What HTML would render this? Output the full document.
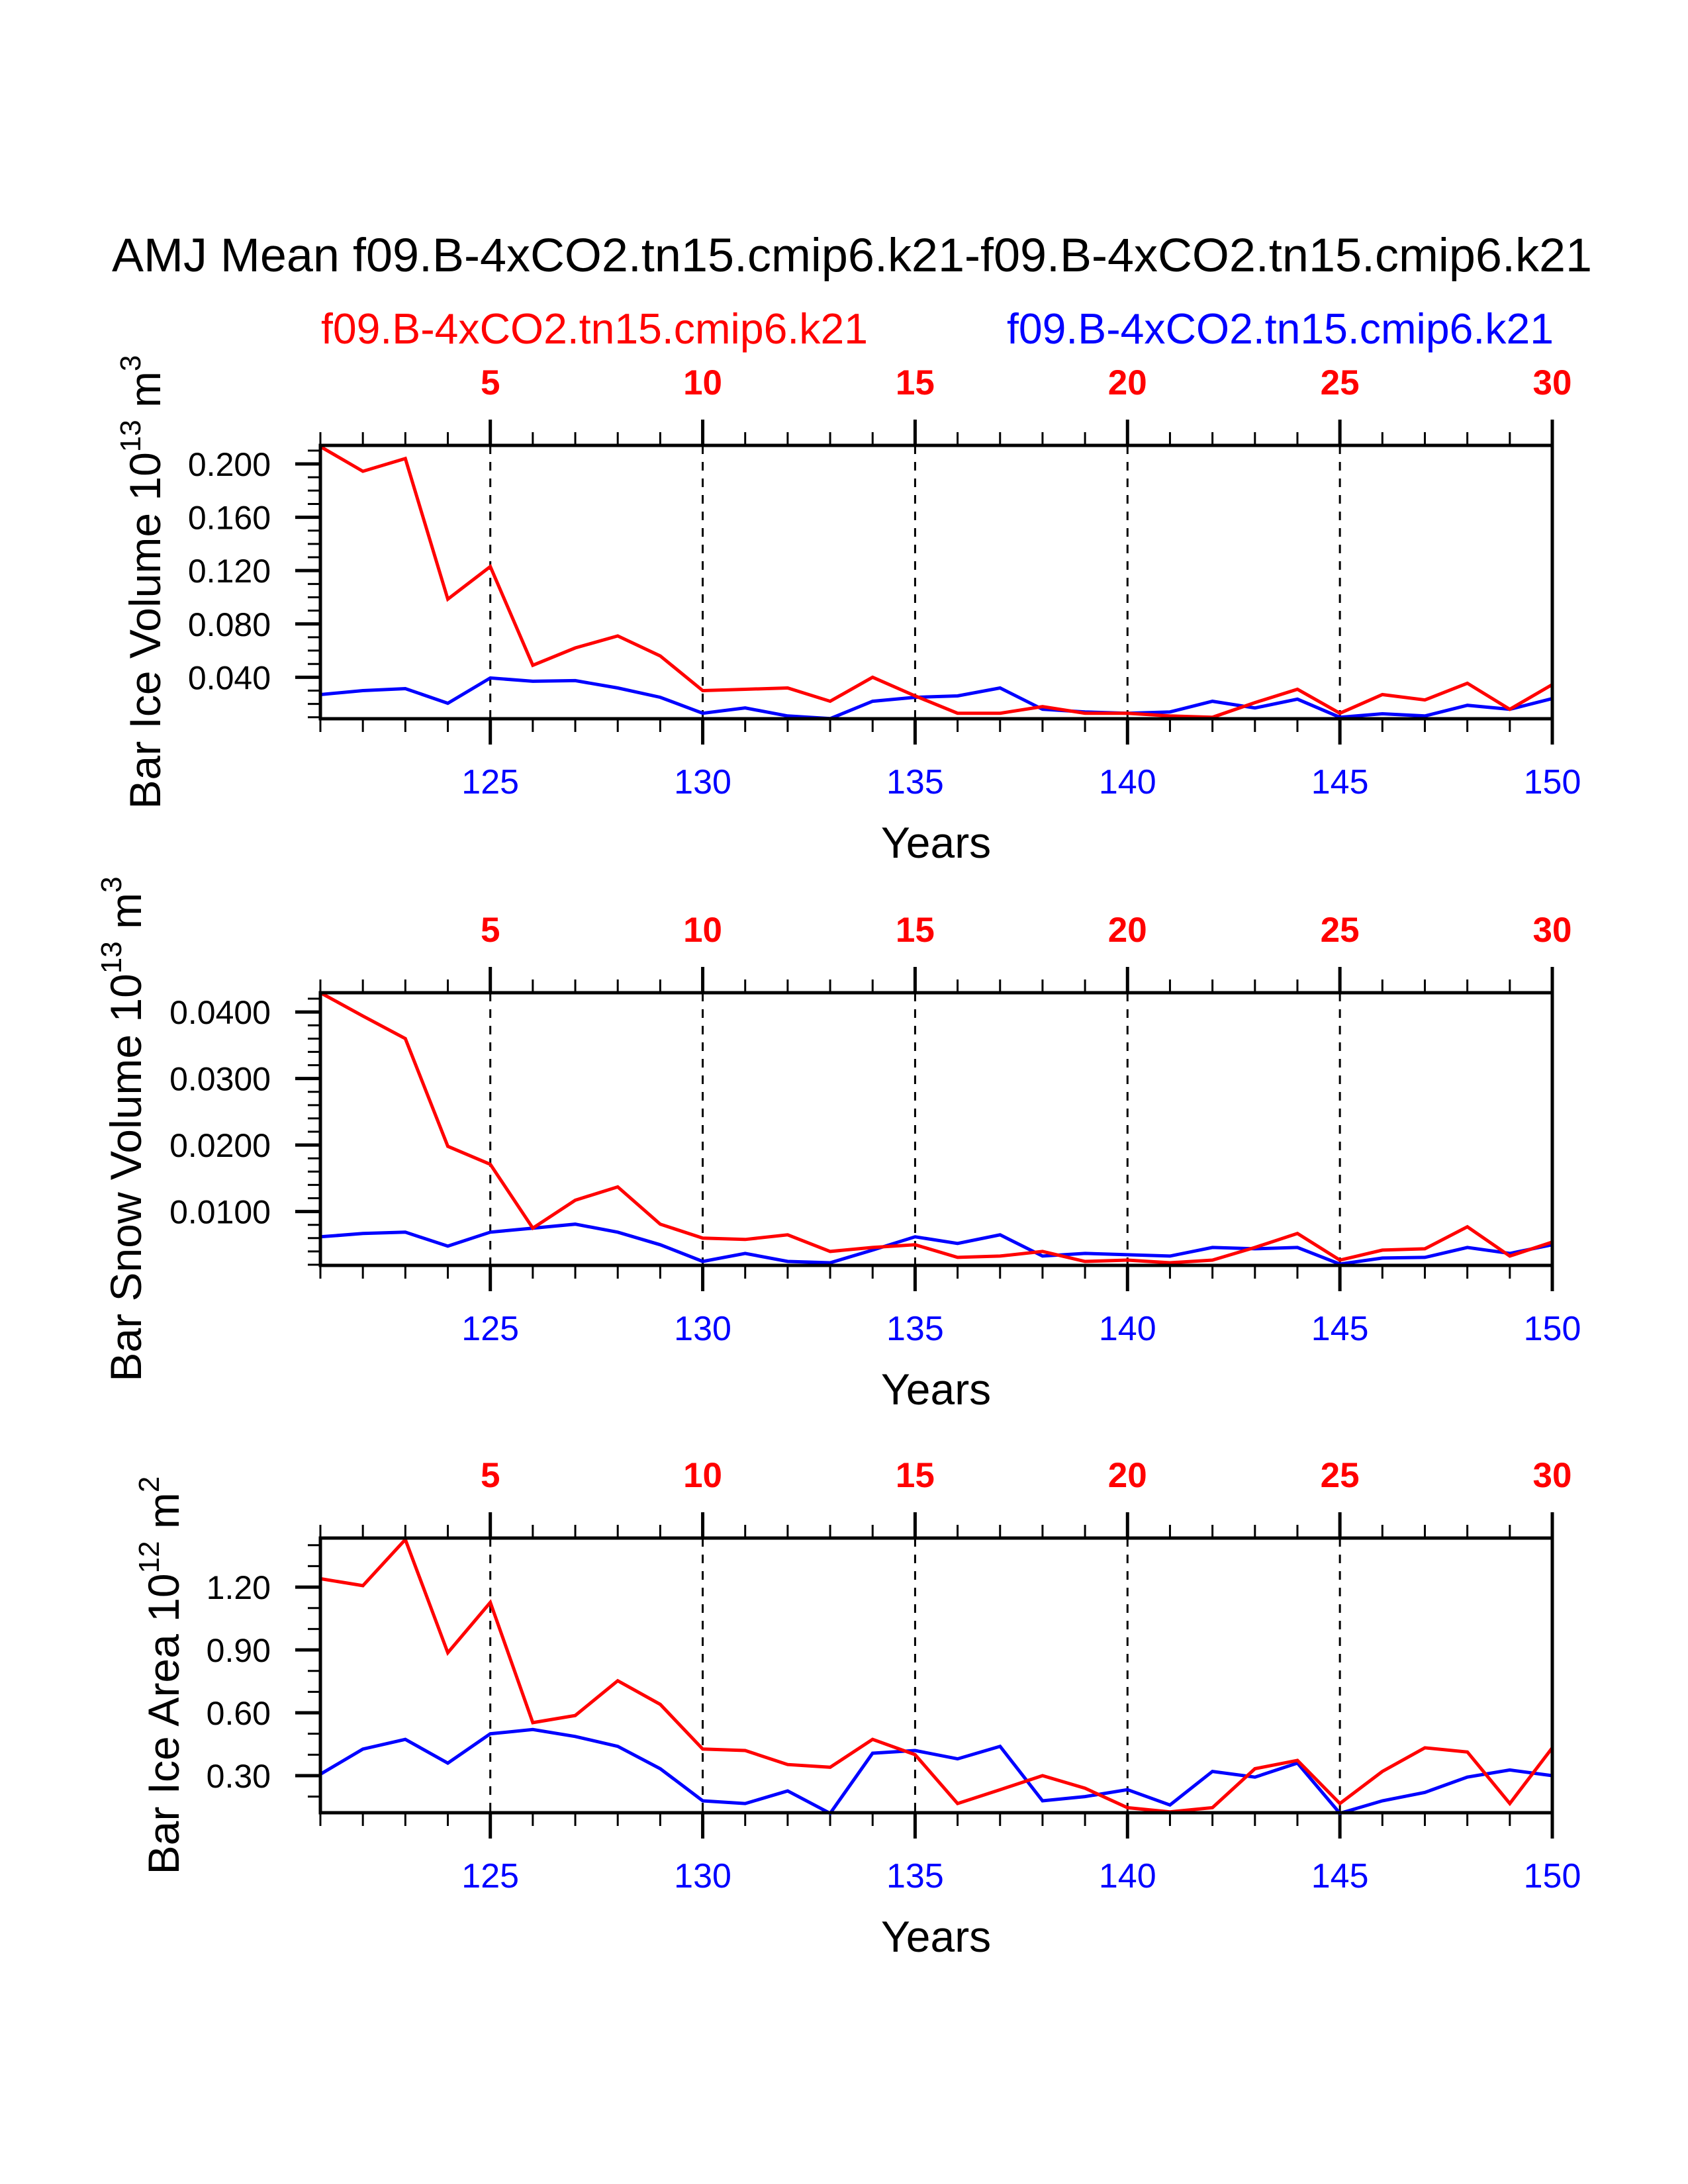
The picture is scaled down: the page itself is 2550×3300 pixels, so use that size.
<!DOCTYPE html>
<html><head><meta charset="utf-8"><style>
html,body{margin:0;padding:0;background:#fff;}
svg{display:block;}
text{font-family:"Liberation Sans",Arial,sans-serif;}
</style></head><body>
<svg id="chart" width="2550" height="3300" viewBox="0 0 2550 3300" xmlns="http://www.w3.org/2000/svg">
<rect x="0" y="0" width="2550" height="3300" fill="#fff"/>
<text x="169" y="410" font-size="71" textLength="2236" lengthAdjust="spacingAndGlyphs">AMJ Mean f09.B-4xCO2.tn15.cmip6.k21-f09.B-4xCO2.tn15.cmip6.k21</text>
<text x="485" y="519" font-size="65" fill="#ff0000" textLength="826" lengthAdjust="spacingAndGlyphs">f09.B-4xCO2.tn15.cmip6.k21</text>
<text x="2347" y="519" font-size="65" fill="#0000ff" text-anchor="end" textLength="826" lengthAdjust="spacingAndGlyphs">f09.B-4xCO2.tn15.cmip6.k21</text>
</svg>
<script>
const years = [121,122,123,124,125,126,127,128,129,130,131,132,133,134,135,136,137,138,139,140,141,142,143,144,145,146,147,148,149,150];
const topTickLabels = ["5","10","15","20","25","30"];
const bottomTickLabels = ["125","130","135","140","145","150"];

const iceVolRed = [0.213,0.1945,0.204,0.0986,0.123,0.049,0.062,0.071,0.056,0.030,0.031,0.032,0.022,0.040,0.026,0.013,0.013,0.018,0.013,0.013,0.011,0.010,0.021,0.031,0.013,0.027,0.023,0.0355,0.016,0.0345];
const iceVolBlue = [0.027,0.030,0.0315,0.0205,0.0395,0.037,0.0375,0.032,0.025,0.013,0.017,0.011,0.009,0.022,0.025,0.026,0.032,0.016,0.014,0.013,0.014,0.022,0.017,0.0236,0.010,0.0126,0.011,0.019,0.016,0.024];
const iceVolTicks = ["0.040","0.080","0.120","0.160","0.200"];

const snowVolRed = [0.0429,0.0394,0.036,0.0198,0.0171,0.0075,0.0117,0.0137,0.0081,0.006,0.0058,0.0065,0.004,0.0046,0.005,0.0031,0.0033,0.004,0.0025,0.0027,0.0023,0.0027,0.0046,0.0067,0.0027,0.0042,0.0044,0.0077,0.0033,0.0054];
const snowVolBlue = [0.0062,0.0067,0.0069,0.0048,0.0069,0.0075,0.0081,0.0069,0.005,0.0025,0.0037,0.0025,0.0023,0.0042,0.0062,0.0052,0.0065,0.0033,0.0037,0.0035,0.0033,0.0046,0.0044,0.0046,0.0021,0.003,0.0031,0.0046,0.0037,0.005];
const snowVolTicks = ["0.0100","0.0200","0.0300","0.0400"];

const iceAreaRed = [1.24,1.207,1.427,0.887,1.127,0.553,0.587,0.753,0.64,0.427,0.42,0.353,0.34,0.473,0.40,0.167,0.233,0.30,0.24,0.147,0.127,0.147,0.333,0.373,0.167,0.32,0.433,0.413,0.167,0.433];
const iceAreaBlue = [0.307,0.427,0.473,0.36,0.5,0.52,0.487,0.44,0.333,0.18,0.167,0.227,0.12,0.407,0.42,0.38,0.44,0.18,0.2,0.233,0.16,0.32,0.293,0.36,0.12,0.18,0.22,0.293,0.327,0.30];
const iceAreaTicks = ["0.30","0.60","0.90","1.20"];

const NS = "http://www.w3.org/2000/svg";
const svg = document.getElementById('chart');
const X0 = 484, X1 = 2345;
function xScale(yr){ return X0 + (yr - 121) * (X1 - X0) / 29; }
function mk(tag, attrs, parent){
  const e = document.createElementNS(NS, tag);
  for (const k in attrs) e.setAttribute(k, attrs[k]);
  (parent || svg).appendChild(e);
  return e;
}

const panels = [
  {top:673,bottom:1086,ymin:0.0089,ymax:0.2139,red:iceVolRed,blue:iceVolBlue,labels:iceVolTicks,minorStep:0.01,minorMin:0.01,minorMax:0.21,titleX:242,title:["Bar Ice Volume 10","13"," m","3"],name:"ice-volume"},
  {top:1500,bottom:1912,ymin:0.0019,ymax:0.0429,red:snowVolRed,blue:snowVolBlue,labels:snowVolTicks,minorStep:0.002,minorMin:0.002,minorMax:0.042,titleX:213,title:["Bar Snow Volume 10","13"," m","3"],name:"snow-volume"},
  {top:2324,bottom:2739,ymin:0.123,ymax:1.434,red:iceAreaRed,blue:iceAreaBlue,labels:iceAreaTicks,minorStep:0.1,minorMin:0.2,minorMax:1.4,titleX:270,title:["Bar Ice Area 10","12"," m","2"],name:"ice-area"}
];

panels.forEach(function(p){
  const g = mk('g', {});
  
  
  function yScale(v){ return p.bottom - (v - p.ymin) / (p.ymax - p.ymin) * (p.bottom - p.top); }

  for (let yr = 125; yr < 150; yr += 5){
    const l = mk('line', {x1:xScale(yr), x2:xScale(yr), y1:p.top, y2:p.bottom, stroke:'#000', 'stroke-width':3, 'stroke-dasharray':'13 12'}, g);
    
    
  }
  for (let yr = 121; yr <= 150; yr++){
    const major = (yr % 5 === 0);
    const len = major ? 39 : 20, w = major ? 5 : 3;
    const tt = mk('line', {x1:xScale(yr), x2:xScale(yr), y1:p.top, y2:p.top - len, stroke:'#000', 'stroke-width':w}, g);
    
    
    const bt = mk('line', {x1:xScale(yr), x2:xScale(yr), y1:p.bottom, y2:p.bottom + len, stroke:'#000', 'stroke-width':w}, g);
    
    
  }
  topTickLabels.forEach(function(lab, i){
    const t = mk('text', {x:xScale(125 + i*5), y:p.top - 77, 'font-size':53, 'font-weight':'bold', fill:'#ff0000', 'text-anchor':'middle'}, g);
    t.textContent = lab;
    
    
  });
  bottomTickLabels.forEach(function(lab, i){
    const t = mk('text', {x:xScale(125 + i*5), y:p.bottom + 113, 'font-size':52, fill:'#0000ff', 'text-anchor':'middle'}, g);
    t.textContent = lab;
    
    
  });
  const xt = mk('text', {x:1414, y:p.bottom + 210, 'font-size':66, fill:'#000', 'text-anchor':'middle'}, g);
  xt.textContent = 'Years';
  
  

  for (let v = p.minorMin; v <= p.minorMax + 1e-9; v += p.minorStep){
    const yy = yScale(v);
    if (yy < p.top - 1 || yy > p.bottom + 1) continue;
    const m = mk('line', {x1:X0, x2:X0 - 19, y1:yy, y2:yy, stroke:'#000', 'stroke-width':3}, g);
    
    
  }
  p.labels.forEach(function(lab){
    const yy = yScale(parseFloat(lab));
    const m = mk('line', {x1:X0, x2:X0 - 38, y1:yy, y2:yy, stroke:'#000', 'stroke-width':5}, g);
    
    
    const t = mk('text', {x:409, y:yy + 18, 'font-size':50, fill:'#000', 'text-anchor':'end'}, g);
    t.textContent = lab;
    
    
  });

  const cy = (p.top + p.bottom) / 2;
  const yt = mk('text', {x:0, y:0, 'font-size':66, fill:'#000', 'text-anchor':'middle', transform:'translate(' + p.titleX + ',' + cy + ') rotate(-90)'}, g);
  
  
  p.title.forEach(function(part, i){
    const ts = mk('tspan', {}, yt);
    if (i % 2 === 1){ ts.setAttribute('font-size', 44); ts.setAttribute('dy', -30); }
    else if (i > 0){ ts.setAttribute('dy', 30); }
    ts.textContent = part;
  });

  function series(vals, color, nm){
    const pts = vals.map(function(v, i){ return xScale(years[i]).toFixed(1) + ',' + yScale(v).toFixed(1); }).join(' ');
    const pl = mk('polyline', {points:pts, fill:'none', stroke:color, 'stroke-width':5, 'stroke-linejoin':'miter'}, g);
    
    
  }
  series(p.blue, '#0000ff', p.name + '-blue-line');
  series(p.red, '#ff0000', p.name + '-red-line');

  const fr = mk('rect', {x:X0, y:p.top, width:X1 - X0, height:p.bottom - p.top, fill:'none', stroke:'#000', 'stroke-width':5}, g);
  
  
});
</script>
</body></html>
